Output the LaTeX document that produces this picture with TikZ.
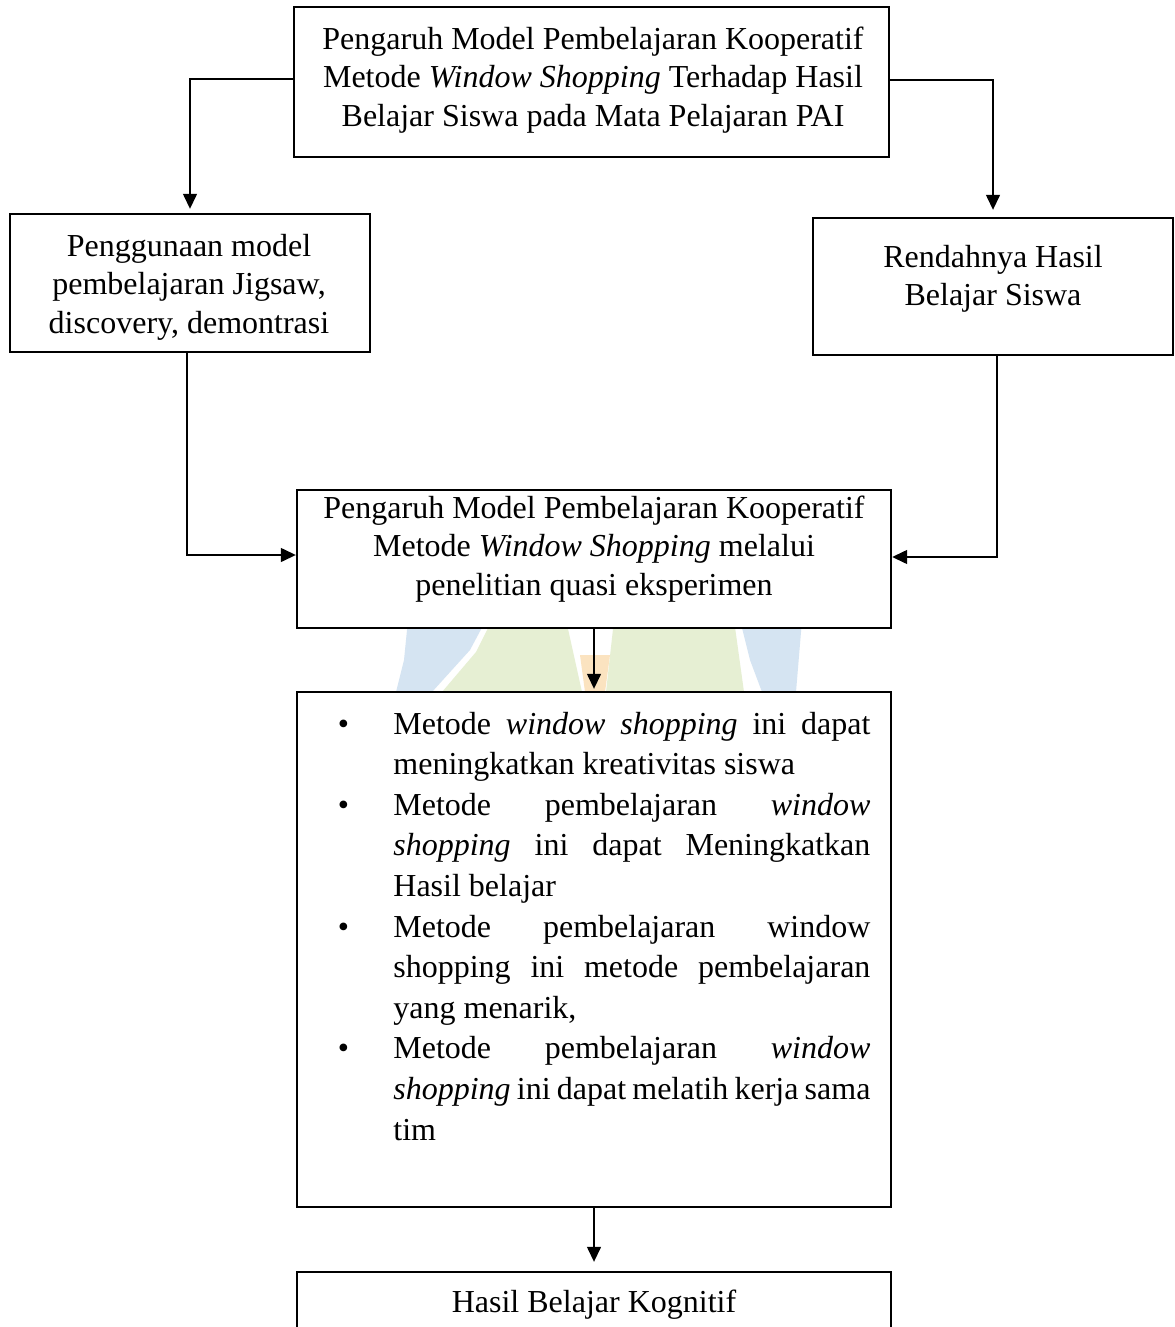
\documentclass[tikz,border=0pt]{standalone}
\usepackage{fontspec}
\setmainfont{Liberation Serif}
\usetikzlibrary{arrows.meta}
\definecolor{wmb}{HTML}{D5E4F2}
\definecolor{wmg}{HTML}{E6EFD3}
\definecolor{wmo}{HTML}{FBE3C0}
\newcommand\bulline[1]{\makebox[27.8pt][l]{\textbullet}\makebox[238.5pt][s]{#1}}
\newcommand\jusline[1]{\hspace*{27.8pt}\makebox[238.5pt][s]{#1}}
\newcommand\lastline[1]{\hspace*{27.8pt}#1}
\newcommand\fontspaces{\spaceskip=0pt\xspaceskip=0pt\relax}
\tikzset{
  box/.style={draw=black, line width=1.2pt, fill=white, inner sep=0pt},
  txt/.style={align=center, inner sep=0pt, font=\fontsize{16pt}{19.3pt}\selectfont},
  conn/.style={draw=black, line width=0.7pt, -{Triangle[length=7.5pt,width=7pt]}},
  wmblue/.style={fill=wmb, draw=none},
  wmgreen/.style={fill=wmg, draw=none},
  wmorange/.style={fill=wmo, draw=none}
}
\begin{document}
\begin{tikzpicture}[x=0.5pt,y=-0.5pt]
\useasboundingbox (0,0) rectangle (1174,1327);
\fill[white] (0,0) rectangle (1174,1327);
% faint watermark (only visible between the boxes)
\fill[wmblue] (408,620) -- (486,620) -- (470,650) -- (432,692) -- (396,692) -- (404,660) -- cycle;
\fill[wmgreen] (492,620) -- (566,620) -- (582,692) -- (442,692) -- (476,652) -- cycle;
\fill[wmgreen] (614,620) -- (734,620) -- (744,692) -- (606,692) -- cycle;
\fill[wmblue] (740,620) -- (802,620) -- (796,692) -- (762,692) -- (750,660) -- cycle;
\fill[wmorange] (580,655) -- (610,655) -- (605,692) -- (585,692) -- cycle;
% boxes
\node[box, minimum width=297.5pt, minimum height=75pt] (topbox) at (591.5,82) {};
\node[box, minimum width=180pt, minimum height=69pt] (leftbox) at (190,283) {};
\node[box, minimum width=180pt, minimum height=68.5pt] (rightbox) at (993,286.5) {};
\node[box, minimum width=297pt, minimum height=69pt] (midbox) at (594,559) {};
\node[box, minimum width=297pt, minimum height=257.5pt] (bullbox) at (594,949.5) {};
\node[box, minimum width=297pt, minimum height=64pt] (botbox) at (594,1336) {};
% texts
\node[txt] (toptext) at (593,80) {\fontspaces Pengaruh Model Pembelajaran Kooperatif\\\fontspaces Metode \textit{Window Shopping} Terhadap Hasil\\\fontspaces Belajar Siswa pada Mata Pelajaran PAI};
\node[txt] (lefttext) at (189,287) {\fontspaces Penggunaan model\\\fontspaces pembelajaran Jigsaw,\\\fontspaces discovery, demontrasi};
\node[txt] (righttext) at (993,279) {\fontspaces Rendahnya Hasil\\\fontspaces Belajar Siswa};
\node[txt] (midtext) at (594,549) {\fontspaces Pengaruh Model Pembelajaran Kooperatif\\\fontspaces Metode \textit{Window Shopping} melalui\\\fontspaces penelitian quasi eksperimen};
\node[txt] (bottext) at (594,1305) {\fontspaces Hasil Belajar Kognitif};
\node[anchor=base west, inner sep=0pt, text width=290pt, align=left,
      font=\fontsize{16pt}{20.3pt}\selectfont] (bulltext) at (337.4,734) {%
\fontspaces
\bulline{Metode \textit{window shopping} ini dapat}\\%
\lastline{meningkatkan kreativitas siswa}\\%
\bulline{Metode pembelajaran \textit{window}}\\%
\jusline{\textit{shopping} ini dapat Meningkatkan}\\%
\lastline{Hasil belajar}\\%
\bulline{Metode pembelajaran window}\\%
\jusline{shopping ini metode pembelajaran}\\%
\lastline{yang menarik,}\\%
\bulline{Metode pembelajaran \textit{window}}\\%
\jusline{\textit{shopping} ini dapat melatih kerja sama}\\%
\lastline{tim}};
% connectors
\draw[conn, shorten >=2pt] ([yshift=1.5pt]topbox.west) -| (leftbox.north);
\draw[conn, shorten >=3.5pt] ([yshift=1pt]topbox.east) -| (rightbox.north);
\draw[conn] ([xshift=-1.5pt]leftbox.south) |- ([yshift=2pt]midbox.west);
\draw[conn] ([xshift=2pt]rightbox.south) |- ([yshift=1pt]midbox.east);
\draw[conn, shorten >=1pt] (midbox.south) -- (bullbox.north);
\draw[conn, shorten >=4.5pt] (bullbox.south) -- (botbox.north);
\end{tikzpicture}
\end{document}
